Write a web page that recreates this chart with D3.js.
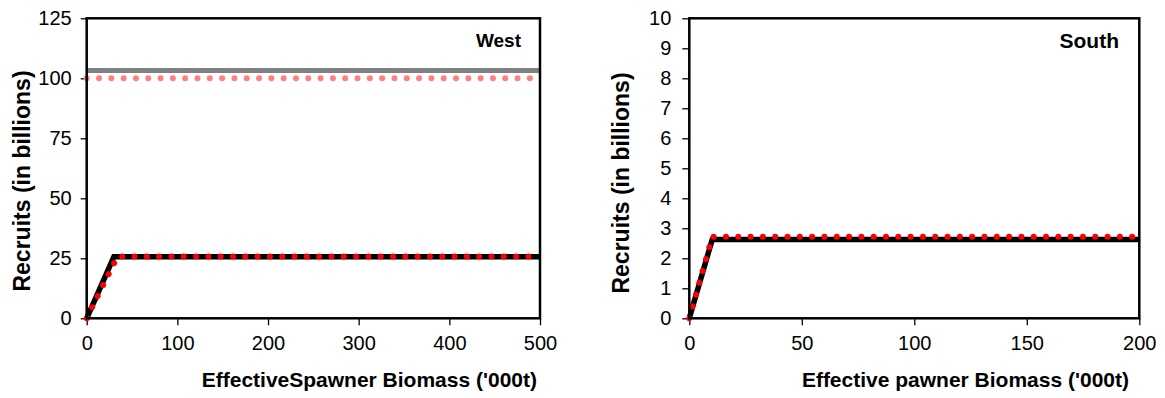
<!DOCTYPE html>
<html><head><meta charset="utf-8">
<script src="https://cdn.jsdelivr.net/npm/d3@7"></script>
<style>body{margin:0;background:#fff}svg{display:block}text{font-family:"Liberation Sans",Arial,sans-serif;fill:#000}</style>
</head><body>
<svg id="c" width="1165" height="398"></svg>
<script>
// ---- data ----
const westXTicks = [0, 100, 200, 300, 400, 500];
const westYTicks = [0, 25, 50, 75, 100, 125];
const southXTicks = [0, 50, 100, 150, 200];
const southYTicks = [0, 1, 2, 3, 4, 5, 6, 7, 8, 9, 10];

const westGrayX = [0, 500];
const westGrayY = [103.3, 103.3];
const westPinkX = [0, 500];
const westPinkY = [100, 100];
const westBlackX = [0, 30, 500];
const westBlackY = [0, 25.6, 25.6];
const westRedX = [0, 34, 500];
const westRedY = [0, 25.8, 25.8];

const southBlackX = [0, 10.2, 200];
const southBlackY = [0, 2.63, 2.63];
const southRedX = [0, 10.2, 200];
const southRedY = [0, 2.72, 2.72];

const titles = {
  west: {label: "West", x: "EffectiveSpawner Biomass ('000t)", y: "Recruits (in billions)"},
  south: {label: "South", x: "Effective pawner Biomass ('000t)", y: "Recruits (in billions)"}
};

const svg = d3.select("#c");
const zip = (xs, ys) => xs.map((x, i) => [x, ys[i]]);

function panel(o) {
  const x = d3.scaleLinear().domain(o.xDom).range([o.left, o.right]);
  const y = d3.scaleLinear().domain(o.yDom).range([o.bottom, o.top]);
  const g = svg.append("g");
  const line = d3.line().x(d => x(d[0])).y(d => y(d[1]));

  const ya = g.append("g").attr("transform", `translate(${o.left},0)`)
    .call(d3.axisLeft(y).tickValues(o.yTicks).tickSize(o.yTickSize).tickPadding(o.yPad).tickFormat(d3.format("d")));
  const xa = g.append("g").attr("transform", `translate(0,${o.bottom})`)
    .call(d3.axisBottom(x).tickValues(o.xTicks).tickSize(7).tickPadding(o.xPad).tickFormat(d3.format("d")));
  [ya, xa].forEach(a => {
    a.select(".domain").remove();
    a.selectAll(".tick line").attr("stroke", "#000").attr("stroke-width", 1.3);
    a.selectAll(".tick text").attr("font-size", o.tickFont).attr("fill", "#000")
      .style("font-family", '"Liberation Sans",Arial,sans-serif');
  });

  o.series.forEach(s => {
    const p = g.append("path").datum(zip(s.xs, s.ys)).attr("d", line)
      .attr("fill", "none").attr("stroke", s.color).attr("stroke-width", s.width)
      .attr("stroke-linejoin", "miter");
    if (s.dotted) p.attr("stroke-dasharray", "0.01,12.3").attr("stroke-linecap", "round");
  });

  g.append("rect").attr("x", o.left).attr("y", o.top)
    .attr("width", o.right - o.left).attr("height", o.bottom - o.top)
    .attr("fill", "none").attr("stroke", "#000").attr("stroke-width", 2.5);

  g.append("text").attr("x", o.labelX).attr("y", o.labelY).attr("text-anchor", "end")
    .attr("font-weight", "bold").attr("font-size", o.labelFont).text(o.t.label);
  g.append("text").attr("x", o.xTitleX).attr("y", 386.5).attr("text-anchor", "end")
    .attr("font-weight", "bold").attr("font-size", 21).text(o.t.x);
  g.append("text").attr("transform", `translate(${o.yTitleX},${o.yTitleY}) rotate(-90)`)
    .attr("text-anchor", "middle").attr("font-weight", "bold").attr("font-size", 23).text(o.t.y);
}

panel({
  left: 86.7, right: 540, top: 18.3, bottom: 318.3,
  xDom: [0, 500], yDom: [0, 125], xTicks: westXTicks, yTicks: westYTicks,
  yTickSize: 6, yPad: 9, xPad: 11, tickFont: 20,
  series: [
    {xs: westGrayX, ys: westGrayY, color: "#808080", width: 5},
    {xs: westPinkX, ys: westPinkY, color: "#ff8080", width: 6, dotted: true},
    {xs: westBlackX, ys: westBlackY, color: "#000", width: 5.5},
    {xs: westRedX, ys: westRedY, color: "#ff0000", width: 6, dotted: true}
  ],
  t: titles.west, labelX: 521, labelY: 47, labelFont: 19,
  xTitleX: 537, yTitleX: 30, yTitleY: 181
});

panel({
  left: 689.3, right: 1139.3, top: 18.3, bottom: 318.3,
  xDom: [0, 200], yDom: [0, 10], xTicks: southXTicks, yTicks: southYTicks,
  yTickSize: 7, yPad: 11, xPad: 11, tickFont: 20,
  series: [
    {xs: southBlackX, ys: southBlackY, color: "#000", width: 5.5},
    {xs: southRedX, ys: southRedY, color: "#ff0000", width: 6, dotted: true}
  ],
  t: titles.south, labelX: 1119, labelY: 48, labelFont: 21,
  xTitleX: 1129, yTitleX: 629, yTitleY: 183
});
</script>
</body></html>
